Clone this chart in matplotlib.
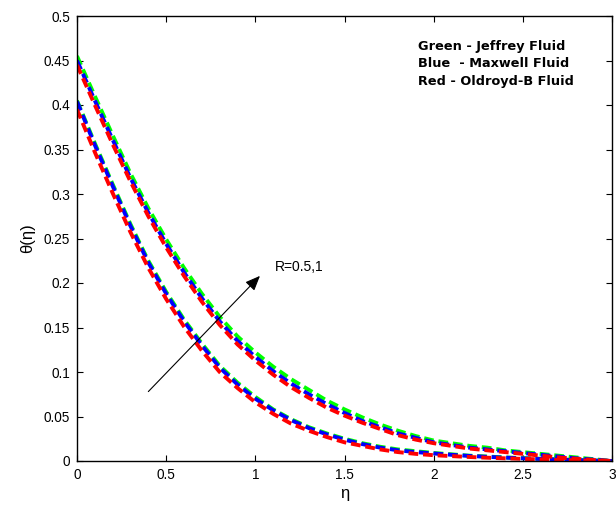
import matplotlib
matplotlib.use("Agg")
import matplotlib.pyplot as plt

plt.rcParams['font.family'] = ['Liberation Sans', 'DejaVu Sans']
plt.rcParams['lines.scale_dashes'] = False

# eta grid
eta = [0.0, 0.1, 0.2, 0.3, 0.4, 0.5, 0.6, 0.7, 0.8, 0.9, 1.0,
       1.1, 1.2, 1.3, 1.4, 1.5, 1.6, 1.7, 1.8, 1.9, 2.0,
       2.1, 2.2, 2.3, 2.4, 2.5, 2.6, 2.7, 2.8, 2.9, 3.0]

# R = 1 (upper group)
jeffrey_R1 = [0.455, 0.410, 0.366, 0.323, 0.284, 0.249, 0.217, 0.188, 0.162, 0.140, 0.122,
              0.106, 0.092, 0.080, 0.068, 0.058, 0.049, 0.041, 0.034, 0.028, 0.023,
              0.020, 0.017, 0.015, 0.012, 0.010, 0.008, 0.006, 0.004, 0.002, 0.000]
maxwell_R1 = [0.450, 0.405, 0.361, 0.318, 0.279, 0.244, 0.212, 0.183, 0.157, 0.135, 0.117,
              0.101, 0.087, 0.075, 0.064, 0.054, 0.045, 0.038, 0.031, 0.026, 0.021,
              0.018, 0.015, 0.013, 0.011, 0.009, 0.007, 0.005, 0.003, 0.0015, 0.000]
oldroyd_R1 = [0.445, 0.400, 0.356, 0.314, 0.275, 0.240, 0.208, 0.179, 0.153, 0.131, 0.113,
              0.097, 0.083, 0.071, 0.060, 0.051, 0.043, 0.036, 0.029, 0.024, 0.020,
              0.017, 0.014, 0.012, 0.010, 0.008, 0.006, 0.004, 0.0025, 0.001, 0.000]

# R = 0.5 (lower group)
jeffrey_R05 = [0.405, 0.357, 0.311, 0.266, 0.225, 0.190, 0.159, 0.132, 0.107, 0.088, 0.072,
               0.058, 0.047, 0.038, 0.031, 0.025, 0.020, 0.016, 0.013, 0.011, 0.009,
               0.0075, 0.006, 0.005, 0.004, 0.0032, 0.0025, 0.0018, 0.0011, 0.0005, 0.0]
maxwell_R05 = [0.404, 0.355, 0.309, 0.264, 0.223, 0.188, 0.157, 0.130, 0.105, 0.086, 0.070,
               0.057, 0.046, 0.037, 0.030, 0.024, 0.019, 0.015, 0.012, 0.010, 0.0085,
               0.007, 0.0057, 0.0047, 0.0038, 0.003, 0.0023, 0.0016, 0.001, 0.0005, 0.0]
oldroyd_R05 = [0.395, 0.347, 0.301, 0.257, 0.217, 0.182, 0.151, 0.124, 0.100, 0.082, 0.066,
               0.053, 0.042, 0.034, 0.027, 0.021, 0.017, 0.013, 0.010, 0.008, 0.0065,
               0.0055, 0.0045, 0.0037, 0.003, 0.0024, 0.0018, 0.0012, 0.0008, 0.0004, 0.0]

xticks = [0, 0.5, 1, 1.5, 2, 2.5, 3]
xticklabels = ['0', '0.5', '1', '1.5', '2', '2.5', '3']
yticks = [0, 0.05, 0.1, 0.15, 0.2, 0.25, 0.3, 0.35, 0.4, 0.45, 0.5]
yticklabels = ['0', '0.05', '0.1', '0.15', '0.2', '0.25', '0.3', '0.35', '0.4', '0.45', '0.5']

legend_lines = ['Green - Jeffrey Fluid', 'Blue  - Maxwell Fluid', 'Red - Oldroyd-B Fluid']

fig = plt.figure(figsize=(6.16, 5.13), dpi=100)
ax = fig.add_axes([77/616, 52/513, 535/616, 445/513])

dash = (7, 3.5)
lw = 2.8
for y in (jeffrey_R1, jeffrey_R05):
    ax.plot(eta, y, color=(0, 1, 0), lw=lw, dashes=dash)
for y in (maxwell_R1, maxwell_R05):
    ax.plot(eta, y, color=(0, 0, 1), lw=lw, dashes=dash)
for y in (oldroyd_R1, oldroyd_R05):
    ax.plot(eta, y, color=(1, 0, 0), lw=lw, dashes=dash)

ax.set_xlim(0, 3)
ax.set_ylim(0, 0.5)
ax.set_xticks(xticks)
ax.set_xticklabels(xticklabels)
ax.set_yticks(yticks)
ax.set_yticklabels(yticklabels)
ax.tick_params(direction='in', length=4, width=0.8, labelsize=9.8,
               top=True, right=True, pad=5)
for s in ax.spines.values():
    s.set_linewidth(1.0)

ax.set_xlabel('η', fontsize=12, labelpad=3)
ax.set_ylabel('θ(η)', fontsize=12, labelpad=6)

ax.annotate('', xy=(1.026, 0.208), xytext=(0.40, 0.078),
            arrowprops=dict(arrowstyle='-|>,head_length=0.6,head_width=0.25',
                            mutation_scale=15, lw=0.8, color='k',
                            shrinkA=0, shrinkB=0))
ax.text(1.11, 0.2185, 'R=0.5,1', fontsize=10, va='center', ha='left')

ys = [0.4655, 0.4469, 0.4262]
for t, yy in zip(legend_lines, ys):
    ax.text(1.912, yy, t, fontsize=9.3, fontweight='bold',
            family='DejaVu Sans', va='center', ha='left')

fig.savefig('out.png', dpi=100)
